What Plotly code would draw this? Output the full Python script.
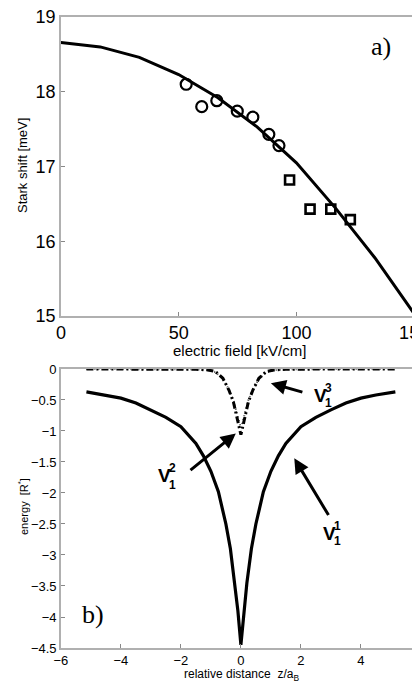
import plotly.graph_objects as go

# ---- panel a) data ----
field_curve = [0, 16.7, 33.3, 50, 66.7, 83.3, 100, 116.7, 133.3, 150]
shift_curve = [18.66, 18.60, 18.46, 18.23, 17.92, 17.53, 17.05, 16.44, 15.78, 15.03]
field_circles = [53.2, 59.8, 66.2, 74.9, 81.5, 88.3, 92.6]
shift_circles = [18.10, 17.80, 17.88, 17.74, 17.66, 17.43, 17.28]
field_squares = [97.1, 105.8, 114.6, 122.9]
shift_squares = [16.82, 16.43, 16.43, 16.29]

# ---- panel b) data ----
z_v1 = [-5.15, -4.5, -4, -3.5, -3, -2.5, -2, -1.5, -1.25, -1, -0.75, -0.5, -0.35, -0.2, -0.1, 0,
        0.1, 0.2, 0.35, 0.5, 0.75, 1, 1.25, 1.5, 2, 2.5, 3, 3.5, 4, 4.5, 5.15]
e_v1 = [-0.37, -0.42, -0.47, -0.55, -0.66, -0.78, -0.93, -1.2, -1.40, -1.65, -1.98, -2.5, -2.9, -3.45, -3.9, -4.45,
        -3.9, -3.45, -2.9, -2.5, -1.98, -1.65, -1.40, -1.2, -0.93, -0.78, -0.66, -0.55, -0.47, -0.42, -0.37]
z_v2 = [-5.15, -3, -2, -1.5, -1.1, -0.85, -0.6, -0.4, -0.25, -0.1, 0, 0.1, 0.25, 0.4, 0.6, 0.85, 1.1, 1.5, 2, 3, 5.15]
e_v2 = [0, 0, 0, -0.005, -0.015, -0.04, -0.15, -0.34, -0.53, -0.85, -1.06, -0.85, -0.53, -0.34, -0.15, -0.04, -0.015, -0.005, 0, 0, 0]
z_v3 = [-5.15, -3, -2, -1.5, -1.1, -0.85, -0.6, -0.4, -0.25, -0.1, 0, 0.1, 0.25, 0.4, 0.6, 0.85, 1.1, 1.5, 2, 3, 5.15]
e_v3 = [0, 0, 0, -0.005, -0.02, -0.05, -0.16, -0.33, -0.5, -0.78, -0.95, -0.78, -0.5, -0.33, -0.16, -0.05, -0.02, -0.005, 0, 0, 0]

fig = go.Figure()
fig.add_trace(go.Scatter(x=field_curve, y=shift_curve, mode="lines",
                         line=dict(color="black", width=3), xaxis="x", yaxis="y"))
fig.add_trace(go.Scatter(x=field_circles, y=shift_circles, mode="markers",
                         marker=dict(symbol="circle-open", size=11, color="black", line=dict(width=2.2)),
                         xaxis="x", yaxis="y"))
fig.add_trace(go.Scatter(x=field_squares, y=shift_squares, mode="markers",
                         marker=dict(symbol="square-open", size=9, color="black", line=dict(width=2.6)),
                         xaxis="x", yaxis="y"))

fig.add_trace(go.Scatter(x=z_v3, y=e_v3, mode="lines",
                         line=dict(color="#555", width=2, dash="1px,3px"), xaxis="x2", yaxis="y2"))
fig.add_trace(go.Scatter(x=z_v2, y=e_v2, mode="lines",
                         line=dict(color="black", width=3, dash="7px,3px,2px,3px"), xaxis="x2", yaxis="y2"))
fig.add_trace(go.Scatter(x=z_v1, y=e_v1, mode="lines",
                         line=dict(color="black", width=3.2), xaxis="x2", yaxis="y2"))

FONT = "Liberation Sans, Arial"
frame = dict(showline=True, linecolor="#b0b0b0", linewidth=1.5, mirror=True, automargin=False,
             ticks="inside", ticklen=4, tickcolor="#888", showgrid=False, zeroline=False,
             ticklabeloverflow="allow")

fig.update_layout(
    width=420, height=681, margin=dict(l=0, r=0, t=0, b=0, autoexpand=False),
    paper_bgcolor="white", plot_bgcolor="white", showlegend=False,
    xaxis=dict(domain=[0.126, 0.967], anchor="y", range=[0, 150], tickvals=[0, 50, 100, 150],
               tickfont=dict(family=FONT, size=18, color="black"), **frame),
    yaxis=dict(domain=[0.5477, 0.9868], anchor="x", range=[15, 19], tickvals=[15, 16, 17, 18, 19],
               tickfont=dict(family=FONT, size=18, color="black"), **frame),
    xaxis2=dict(domain=[0.126, 0.983], anchor="y2", range=[-6, 6], tickvals=[-6, -4, -2, 0, 2, 4, 6],
                tickfont=dict(family=FONT, size=13, color="black"), **frame),
    yaxis2=dict(domain=[0.0602, 0.4699], anchor="x2", range=[-4.5, 0],
                tickvals=[0, -0.5, -1, -1.5, -2, -2.5, -3, -3.5, -4, -4.5],
                tickfont=dict(family=FONT, size=13, color="black"), **frame),
)

# axis titles placed as paper-anchored text
def ptxt(text, x, y, size, angle=0):
    fig.add_annotation(x=x / 420, y=1 - y / 681, xref="paper", yref="paper", text=text, showarrow=False,
                       textangle=angle, xanchor="center", yanchor="middle",
                       font=dict(family=FONT, size=size, color="black"))

ptxt("electric field [kV/cm]", 231, 342, 15)
ptxt("Stark shift [meV]", 14, 158, 13, -90)
ptxt("relative distance  z/a<sub>B</sub>", 233, 667, 12)
ptxt("energy  [R<sup>*</sup>]", 15, 499, 11, -90)

serif = dict(family="Liberation Serif, DejaVu Serif", size=26, color="black")
fig.add_annotation(x=136, y=18.61, xref="x", yref="y", text="a)", showarrow=False, font=serif)
fig.add_annotation(x=-4.94, y=-3.96, xref="x2", yref="y2", text="b)", showarrow=False, font=serif)

lab = dict(family=FONT, size=19, color="black")
small = dict(family=FONT, size=12, color="black")
arrows = [
    # (label x, label y, sup, sup x, sup y, sub y, tail x, tail y, head x, head y)
    (2.65, -0.42, "3", 2.92, -0.31, -0.55, 2.1, -0.38, 1.0, -0.23),
    (-2.56, -1.71, "2", -2.27, -1.60, -1.87, -1.73, -1.65, -0.17, -1.04),
    (2.95, -2.65, "1", 3.23, -2.54, -2.78, 2.95, -2.38, 1.78, -1.44),
]
for lx, ly, sup, sx, sy, suby, tx, ty, hx, hy in arrows:
    fig.add_annotation(x=lx, y=ly, xref="x2", yref="y2", text="<b>V</b>", showarrow=False, font=lab)
    fig.add_annotation(x=sx, y=sy, xref="x2", yref="y2", text="<b>" + sup + "</b>", showarrow=False, font=small)
    fig.add_annotation(x=sx, y=suby, xref="x2", yref="y2", text="<b>1</b>", showarrow=False, font=small)
    fig.add_annotation(x=hx, y=hy, ax=tx, ay=ty, xref="x2", yref="y2", axref="x2", ayref="y2",
                       text="", showarrow=True, arrowhead=2, arrowsize=1, arrowwidth=3, arrowcolor="black")

fig.write_html("out.html")
